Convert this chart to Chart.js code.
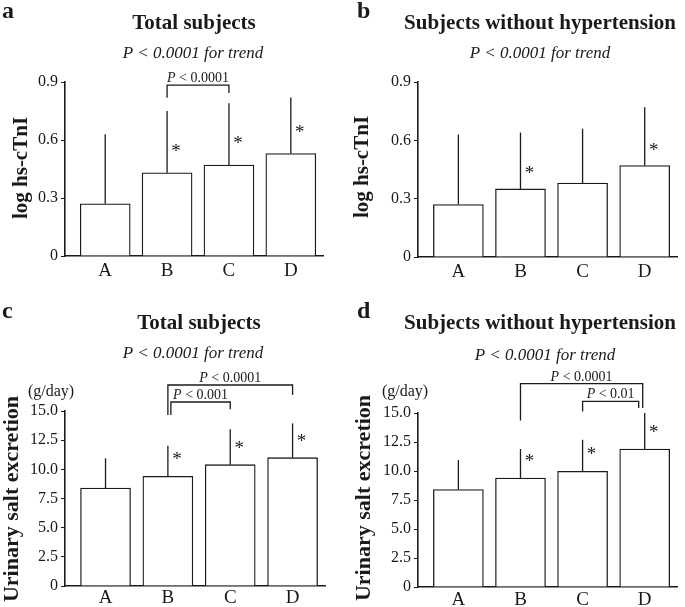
<!DOCTYPE html>
<html>
<head>
<meta charset="utf-8">
<script src="https://cdn.jsdelivr.net/npm/chart.js@4.4.1/dist/chart.umd.min.js"></script>
<style>
  html, body { margin: 0; padding: 0; background: #fff; }
  #wrap { position: relative; width: 685px; height: 607px; overflow: hidden; }
  #wrap canvas { position: absolute; left: 0; top: 0; }
</style>
</head>
<body>
<div id="wrap">
  <canvas id="panelA" width="685" height="607"></canvas>
  <canvas id="panelB" width="685" height="607"></canvas>
  <canvas id="panelC" width="685" height="607"></canvas>
  <canvas id="panelD" width="685" height="607"></canvas>
</div>
<script>
// Groups on the x axis
const groups = ['A', 'B', 'C', 'D'];
const groupPos = [0, 1, 2, 3];

// Tick labels
const tnTicks = ['0', '0.3', '0.6', '0.9'];
const saltTicks = ['0', '2.5', '5.0', '7.5', '10.0', '12.5', '15.0'];

// a: log hs-cTnI, total subjects (mean, upper SD)
const tnTotalMean = [0.27, 0.43, 0.47, 0.53];
const tnTotalSd = [0.36, 0.32, 0.32, 0.29];
const tnTotalStar = [false, true, true, true];

// b: log hs-cTnI, subjects without hypertension
const tnNormoMean = [0.27, 0.35, 0.38, 0.47];
const tnNormoSd = [0.36, 0.29, 0.28, 0.30];
const tnNormoStar = [false, true, false, true];

// c: urinary salt excretion (g/day), total subjects
const saltTotalMean = [8.4, 9.4, 10.4, 11.0];
const saltTotalSd = [2.55, 2.62, 3.03, 2.94];
const saltTotalStar = [false, true, true, true];

// d: urinary salt excretion (g/day), subjects without hypertension
const saltNormoMean = [8.4, 9.4, 9.97, 11.9];
const saltNormoSd = [2.55, 2.5, 2.72, 3.1];
const saltNormoStar = [false, true, true, true];

// Pairwise comparisons: groups, P value, bracket height and leg ends (axis units)
const tnTotalPairs = [
  { from: 1, to: 2, p: '0.0001', top: 0.884, endL: 0.819, endR: 0.843 }
];
const tnNormoPairs = [];
const saltTotalPairs = [
  { from: 1, to: 3, p: '0.0001', top: 17.23, endL: 14.65, endR: 16.37 },
  { from: 1, to: 2, p: '0.001', top: 15.77, endL: 14.65, endR: 15.14 }
];
const saltNormoPairs = [
  { from: 1, to: 3, p: '0.0001', top: 17.53, endL: 14.36, endR: 15.43 },
  { from: 2, to: 3, p: '0.01', top: 16.0, endL: 15.14, endR: 15.43 }
];

const W = 685, H = 607;
const INK = '#1a1a1a';
const SERIF = '"Liberation Serif", "Times New Roman", serif';
Chart.defaults.font.family = SERIF;
Chart.defaults.color = INK;

// "P" in italics followed by the rest in upright type, centred on cx
function drawPLabel(ctx, rest, cx, baseY, size) {
  ctx.font = 'italic ' + size + 'px ' + SERIF;
  const wp = ctx.measureText('P').width;
  ctx.font = size + 'px ' + SERIF;
  const wr = ctx.measureText(rest).width;
  const x0 = cx - (wp + wr) / 2;
  ctx.textAlign = 'left';
  ctx.textBaseline = 'alphabetic';
  ctx.font = 'italic ' + size + 'px ' + SERIF;
  ctx.fillText('P', x0, baseY);
  ctx.font = size + 'px ' + SERIF;
  ctx.fillText(rest, x0 + wp, baseY);
}

function decor(p) {
  return {
    id: 'decor',
    afterDatasetsDraw(chart) {
      const { ctx } = chart;
      const x = chart.scales.x, y = chart.scales.y;
      ctx.save();
      ctx.strokeStyle = INK;
      ctx.fillStyle = INK;
      ctx.lineWidth = 1.3;

      // upper SD whiskers and significance stars
      p.mean.forEach((m, i) => {
        const px = x.getPixelForValue(groupPos[i]);
        const top = y.getPixelForValue(m);
        ctx.beginPath();
        ctx.moveTo(px, top);
        ctx.lineTo(px, y.getPixelForValue(m + p.sd[i]));
        ctx.stroke();
        if (p.star[i]) {
          ctx.font = '19px ' + SERIF;
          ctx.textAlign = 'center';
          ctx.textBaseline = 'alphabetic';
          ctx.fillText('*', px + 9, top - p.starLift);
        }
      });

      // comparison brackets
      p.pairs.forEach((b, k) => {
        const nudge = p.nudge[k] || [0, 0];
        const xl = x.getPixelForValue(groupPos[b.from]) + nudge[0];
        const xr = x.getPixelForValue(groupPos[b.to]) + nudge[1];
        const yt = y.getPixelForValue(b.top);
        ctx.beginPath();
        ctx.moveTo(xl, y.getPixelForValue(b.endL));
        ctx.lineTo(xl, yt);
        ctx.lineTo(xr, yt);
        ctx.lineTo(xr, y.getPixelForValue(b.endR));
        ctx.stroke();
        drawPLabel(ctx, ' < ' + b.p, (xl + xr) / 2, yt - 3, 14);
      });
      ctx.restore();
    },
    afterDraw(chart) {
      const { ctx } = chart;
      ctx.save();
      ctx.fillStyle = INK;
      ctx.textBaseline = 'alphabetic';

      ctx.textAlign = 'left';
      ctx.font = 'bold 24px ' + SERIF;
      ctx.fillText(p.letter.text, p.letter.x, p.letter.y);

      ctx.textAlign = 'center';
      ctx.font = 'bold 21px ' + SERIF;
      ctx.fillText(p.title.text, p.title.x, p.title.y);

      ctx.font = 'italic 17px ' + SERIF;
      ctx.fillText('P < 0.0001 for trend', p.sub.x, p.sub.y);

      if (p.unit) {
        ctx.font = '16px ' + SERIF;
        ctx.fillText(p.unit.text, p.unit.x, p.unit.y);
      }

      ctx.translate(p.yTitle.x, p.yTitle.y);
      ctx.rotate(-Math.PI / 2);
      ctx.textBaseline = 'middle';
      ctx.font = 'bold ' + p.yTitle.size + 'px ' + SERIF;
      ctx.fillText(p.yTitle.text, 0, 0);
      ctx.restore();
    }
  };
}

function makePanel(id, p) {
  const yAxisWidth = 40;
  const xAxisHeight = Math.min(30, H - p.area.bottom);
  new Chart(document.getElementById(id), {
    type: 'bar',
    data: {
      datasets: [{
        data: p.mean.map((v, i) => ({ x: groupPos[i], y: v })),
        backgroundColor: '#fff',
        borderColor: INK,
        borderWidth: 1.3,
        barThickness: 50
      }]
    },
    options: {
      responsive: false,
      animation: false,
      events: [],
      layout: {
        padding: {
          left: p.area.left - yAxisWidth,
          top: p.area.top,
          right: W - p.area.right,
          bottom: H - p.area.bottom - xAxisHeight
        }
      },
      plugins: { legend: { display: false }, tooltip: { enabled: false } },
      scales: {
        x: {
          type: 'linear',
          min: -0.65,
          max: 3.52,
          offset: false,
          z: 1,
          afterBuildTicks: s => { s.ticks = groupPos.map(v => ({ value: v })); },
          afterFit: s => { s.height = xAxisHeight; },
          grid: { display: false, drawTicks: false, offset: false },
          border: { display: true, color: INK, width: 1.6 },
          ticks: {
            callback: v => groups[v],
            color: INK,
            font: { size: 19 },
            padding: p.xPad,
            maxRotation: 0,
            autoSkip: false
          }
        },
        y: {
          min: 0,
          max: p.yMax,
          afterFit: s => { s.width = yAxisWidth; },
          grid: { drawOnChartArea: false, drawTicks: true, tickLength: 4, color: INK },
          border: { display: true, color: INK, width: 1.6 },
          ticks: {
            stepSize: p.yStep,
            callback: (v, i) => p.yTicks[i],
            color: INK,
            font: { size: 16 },
            padding: 3
          }
        }
      }
    },
    plugins: [decor(p)]
  });
}

makePanel('panelA', {
  mean: tnTotalMean, sd: tnTotalSd, star: tnTotalStar, pairs: tnTotalPairs, nudge: [],
  yMax: 0.9, yStep: 0.3, yTicks: tnTicks, starLift: 16,
  area: { left: 65, top: 82, right: 323, bottom: 256 }, xPad: 4,
  letter: { text: 'a', x: 2, y: 18 },
  title: { text: 'Total subjects', x: 194, y: 28.5 },
  sub: { x: 193, y: 58 },
  yTitle: { text: 'log hs-cTnI', x: 22, y: 168, size: 21 }
});

makePanel('panelB', {
  mean: tnNormoMean, sd: tnNormoSd, star: tnNormoStar, pairs: tnNormoPairs, nudge: [],
  yMax: 0.9, yStep: 0.3, yTicks: tnTicks, starLift: 10,
  area: { left: 418, top: 82, right: 677, bottom: 257 }, xPad: 4,
  letter: { text: 'b', x: 357, y: 18 },
  title: { text: 'Subjects without hypertension', x: 540, y: 28.5 },
  sub: { x: 540, y: 58 },
  yTitle: { text: 'log hs-cTnI', x: 363, y: 167, size: 21 }
});

makePanel('panelC', {
  mean: saltTotalMean, sd: saltTotalSd, star: saltTotalStar, pairs: saltTotalPairs, nudge: [[0, 0], [3, 0]],
  yMax: 15, yStep: 2.5, yTicks: saltTicks, starLift: 11,
  area: { left: 65, top: 411, right: 325, bottom: 586 }, xPad: 1,
  letter: { text: 'c', x: 2, y: 318 },
  title: { text: 'Total subjects', x: 199, y: 329 },
  sub: { x: 193, y: 358 },
  unit: { text: '(g/day)', x: 51, y: 396 },
  yTitle: { text: 'Urinary salt excretion', x: 12, y: 499, size: 22 }
});

makePanel('panelD', {
  mean: saltNormoMean, sd: saltNormoSd, star: saltNormoStar, pairs: saltNormoPairs, nudge: [[0, -2], [0, -6]],
  yMax: 15, yStep: 2.5, yTicks: saltTicks, starLift: 11,
  area: { left: 418, top: 413, right: 677, bottom: 587 }, xPad: 2,
  letter: { text: 'd', x: 357, y: 318 },
  title: { text: 'Subjects without hypertension', x: 540, y: 329 },
  sub: { x: 545, y: 360 },
  unit: { text: '(g/day)', x: 405, y: 396 },
  yTitle: { text: 'Urinary salt excretion', x: 364, y: 498, size: 22 }
});
</script>
</body>
</html>
